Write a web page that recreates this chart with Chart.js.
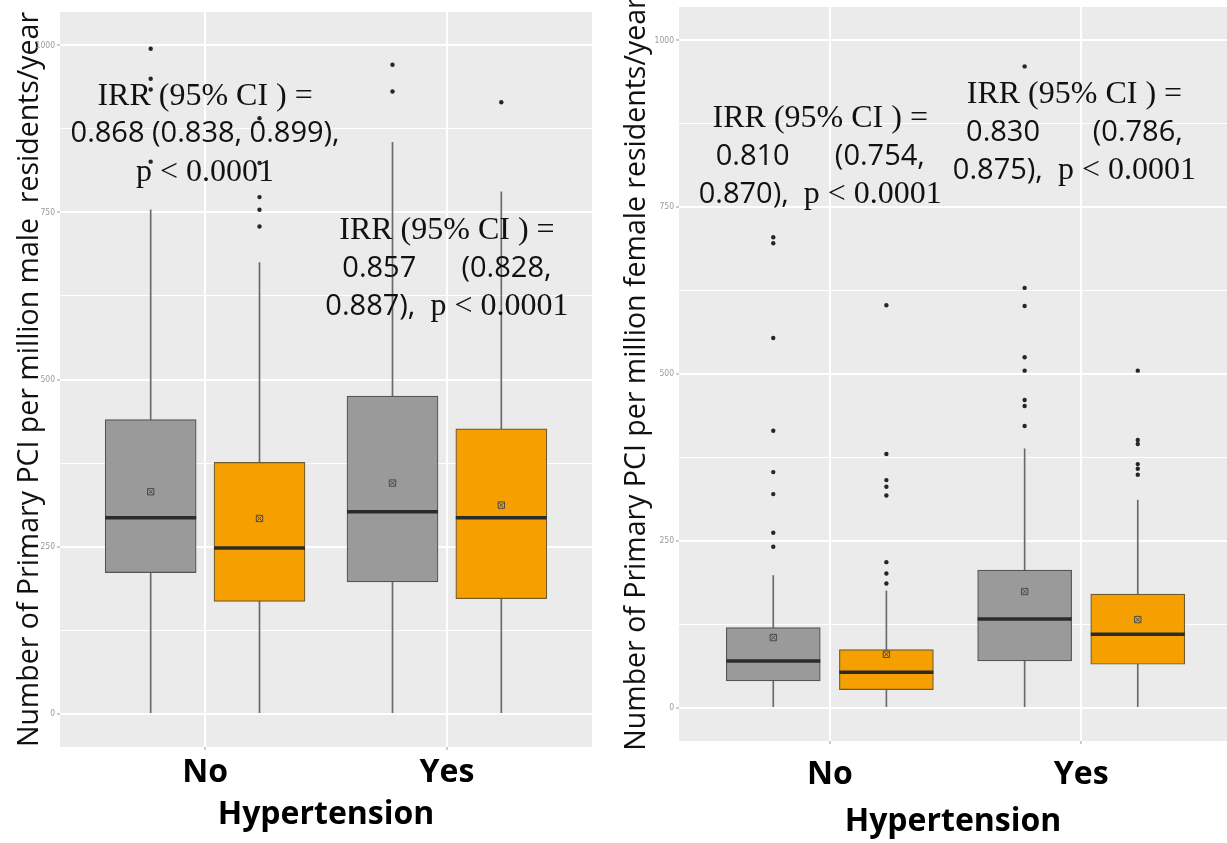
<!DOCTYPE html>
<html lang="en">
<head>
<meta charset="UTF-8">
<title>Primary PCI by hypertension</title>
<script src="https://cdn.jsdelivr.net/npm/chart.js"></script>
<style>
  body { margin: 0; background: #fff; width: 1227px; height: 843px; overflow: hidden; position: relative; }
  canvas { position: absolute; top: 0; }
  #male { left: 0; }
  #female { left: 600px; }
</style>
</head>
<body>
<canvas id="male" width="600" height="843"></canvas>
<canvas id="female" width="627" height="843"></canvas>
<script>
const categories = ['No', 'Yes'];
const yTickLabels = [0, 250, 500, 750, 1000];
const yMinorGrid = [125, 375, 625, 875];

// per category: [lower whisker, Q1, median, Q3, upper whisker]
const maleGreyBox = [[0, 211, 293, 440, 754], [0, 197, 302, 475, 855]];
const maleGreyMean = [332, 345];
const maleGreyOutliers = [[995, 950, 934, 826], [971, 931]];
const maleOrangeBox = [[0, 168, 248, 376, 675], [0, 172, 293, 426, 781]];
const maleOrangeMean = [292, 312];
const maleOrangeOutliers = [[891, 824, 773, 754, 729], [915]];

const femaleGreyBox = [[0, 40, 70, 120, 198], [0, 70, 133, 206, 388]];
const femaleGreyMean = [105, 174];
const femaleGreyOutliers = [[705, 696, 554, 415, 353, 320, 262, 241], [961, 629, 602, 525, 505, 461, 452, 422]];
const femaleOrangeBox = [[0, 27, 53, 87, 175], [0, 65, 110, 170, 311]];
const femaleOrangeMean = [80, 132];
const femaleOrangeOutliers = [[603, 380, 341, 331, 318, 218, 201, 186], [505, 401, 395, 365, 358, 349]];

const maleNotes = [
  { x: 1, y: 924, lines: [[['IRR (95% CI ) =', 'serif']], [['0.868 (0.838, 0.899),', 'sans']], [['p < 0.0001', 'serif']]] },
  { x: 2, y: 723, lines: [[['IRR (95% CI ) =', 'serif']], [['0.857      (0.828,', 'sans']], [['0.887),  ', 'sans'], ['p < 0.0001', 'serif']]] }
];
const femaleNotes = [
  { x: 0.962, y: 883, lines: [[['IRR (95% CI ) =', 'serif']], [['0.810      (0.754,', 'sans']], [['0.870),  ', 'sans'], ['p < 0.0001', 'serif']]] },
  { x: 1.973, y: 918, lines: [[['IRR (95% CI ) =', 'serif']], [['0.830       (0.786,', 'sans']], [['0.875),  ', 'sans'], ['p < 0.0001', 'serif']]] }
];

const GREY = '#9a9a9a';
const ORANGE = '#f5a000';
const dodge = 0.225;
const noteFonts = { serif: '32px "Liberation Serif", serif', sans: '29px "Open Sans", sans-serif' };

function boxDatasets(box, mean, outliers, side, fill, edge, width) {
  const xs = categories.map((c, i) => i + 1 + side * dodge);
  return [
    { type: 'bar', grouped: false, order: 3, barThickness: 1, backgroundColor: '#6a6a6a',
      data: xs.map((x, i) => ({ x: x, y: [box[i][0], box[i][4]] })) },
    { type: 'bar', grouped: false, order: 2, barThickness: width, backgroundColor: fill,
      borderColor: edge, borderWidth: 1.2, borderSkipped: false,
      data: xs.map((x, i) => ({ x: x, y: [box[i][1], box[i][3]] })) },
    { type: 'scatter', order: 1, pointStyle: 'line', pointRadius: width / 2, borderColor: '#2b2b2b', borderWidth: 3.5,
      data: xs.map((x, i) => ({ x: x, y: box[i][2] })) },
    { type: 'scatter', order: 0, pointStyle: 'rect', pointRadius: 4.5, backgroundColor: 'rgba(0,0,0,0)',
      borderColor: '#4a4a4a', borderWidth: 1, data: xs.map((x, i) => ({ x: x, y: mean[i] })) },
    { type: 'scatter', order: 0, pointStyle: 'crossRot', pointRadius: 3, borderColor: '#4a4a4a', borderWidth: 1,
      data: xs.map((x, i) => ({ x: x, y: mean[i] })) },
    { type: 'scatter', order: 0, pointStyle: 'circle', pointRadius: 2.2, backgroundColor: '#262626', borderWidth: 0,
      data: xs.flatMap((x, i) => outliers[i].map(v => ({ x: x, y: v }))) }
  ];
}

const panelBg = {
  id: 'panelBg',
  beforeDraw(chart) {
    const { ctx, chartArea: a } = chart;
    ctx.save();
    ctx.fillStyle = '#ebebeb';
    ctx.fillRect(a.left, a.top, a.width, a.height);
    ctx.restore();
  }
};

function notesPlugin(notes) {
  return {
    id: 'notes',
    afterDraw(chart) {
      const ctx = chart.ctx;
      const xs = chart.scales.x, ys = chart.scales.y;
      ctx.save();
      ctx.fillStyle = '#111';
      ctx.textBaseline = 'middle';
      ctx.textAlign = 'left';
      notes.forEach(n => {
        const cx = xs.getPixelForValue(n.x);
        const top = ys.getPixelForValue(n.y);
        n.lines.forEach((line, li) => {
          let total = 0;
          line.forEach(seg => { ctx.font = noteFonts[seg[1]]; total += ctx.measureText(seg[0]).width; });
          let x = cx - total / 2;
          line.forEach(seg => {
            ctx.font = noteFonts[seg[1]];
            ctx.fillText(seg[0], x, top + li * 38);
            x += ctx.measureText(seg[0]).width;
          });
        });
      });
      ctx.restore();
    }
  };
}

function makePanel(id, cfg) {
  const gridValues = yTickLabels.concat(yMinorGrid).sort((a, b) => a - b);
  new Chart(document.getElementById(id), {
    type: 'bar',
    data: {
      datasets: boxDatasets(cfg.greyBox, cfg.greyMean, cfg.greyOut, -1, GREY, '#555', cfg.boxWidth)
        .concat(boxDatasets(cfg.orangeBox, cfg.orangeMean, cfg.orangeOut, 1, ORANGE, '#6e5a2e', cfg.boxWidth))
    },
    options: {
      responsive: false,
      animation: false,
      events: [],
      layout: { padding: cfg.padding, autoPadding: false },
      plugins: { legend: { display: false }, tooltip: { enabled: false } },
      scales: {
        x: {
          type: 'linear', min: 0.4, max: cfg.xMax, offset: false,
          afterBuildTicks: s => { s.ticks = categories.map((c, i) => ({ value: i + 1 })); },
          afterFit: s => { s.height = cfg.xHeight; s.paddingLeft = 0; s.paddingRight = 0; },
          ticks: {
            callback: v => categories[v - 1], autoSkip: false, maxRotation: 0,
            font: { family: 'Open Sans', size: 32, weight: 'bold' }, color: '#000', padding: cfg.xTickPad
          },
          grid: { offset: false, color: '#fff', lineWidth: 2, tickColor: '#999', tickLength: 3, tickWidth: 1 },
          border: { display: false },
          title: {
            display: true, text: 'Hypertension', color: '#000',
            font: { family: 'Open Sans', size: 32, weight: 'bold' }, padding: { top: 0, bottom: cfg.xTitlePad }
          }
        },
        y: {
          type: 'linear', min: -50, max: 1050,
          afterBuildTicks: s => { s.ticks = gridValues.map(v => ({ value: v })); },
          afterFit: s => { s.width = cfg.yWidth; s.paddingTop = 0; s.paddingBottom = 0; },
          ticks: {
            callback: v => yTickLabels.includes(v) ? String(v) : '', autoSkip: false,
            font: { family: "'DejaVu Sans Condensed', 'Liberation Sans Narrow', sans-serif", size: 8.5 },
            color: '#9a9a9a', padding: 2
          },
          grid: {
            color: '#fff',
            lineWidth: c => yTickLabels.includes(c.tick.value) ? 2 : 1,
            tickColor: c => yTickLabels.includes(c.tick.value) ? '#999' : 'rgba(0,0,0,0)',
            tickLength: 3, tickWidth: 1
          },
          border: { display: false },
          title: {
            display: true, text: cfg.yTitle, color: '#111',
            font: { family: 'Open Sans', size: 28.5 }, padding: { top: cfg.yTitlePad, bottom: 0 }
          }
        }
      }
    },
    plugins: [panelBg, notesPlugin(cfg.notes)]
  });
}

makePanel('male', {
  greyBox: maleGreyBox, greyMean: maleGreyMean, greyOut: maleGreyOutliers,
  orangeBox: maleOrangeBox, orangeMean: maleOrangeMean, orangeOut: maleOrangeOutliers,
  boxWidth: 91, xMax: 2.6, padding: { top: 12, right: 8, left: 0, bottom: 0 },
  yWidth: 60, xHeight: 96, xTickPad: 4, xTitlePad: 9, yTitlePad: 13,
  yTitle: 'Number of Primary PCI per million male  residents/year', notes: maleNotes
});

makePanel('female', {
  greyBox: femaleGreyBox, greyMean: femaleGreyMean, greyOut: femaleGreyOutliers,
  orangeBox: femaleOrangeBox, orangeMean: femaleOrangeMean, orangeOut: femaleOrangeOutliers,
  boxWidth: 94, xMax: 2.58, padding: { top: 7, right: 0, left: 0, bottom: 0 },
  yWidth: 79, xHeight: 102, xTickPad: 12, xTitlePad: 2, yTitlePad: 20,
  yTitle: 'Number of Primary PCI per million female residents/year', notes: femaleNotes
});
</script>
</body>
</html>
